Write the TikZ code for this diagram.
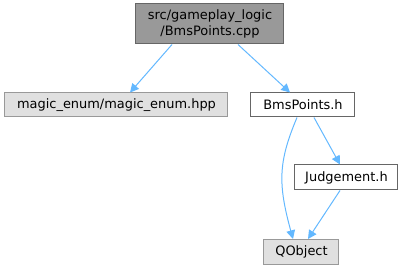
\documentclass[tikz,border=0pt]{standalone}
\usepackage{fontspec}
\setmainfont{DejaVu Sans}
\usetikzlibrary{calc,arrows.meta}
\definecolor{edgeblue}{HTML}{63B8FF}
\definecolor{darkborder}{HTML}{666666}
\definecolor{lightborder}{HTML}{999999}
\definecolor{mainfill}{HTML}{999999}
\definecolor{extfill}{HTML}{E0E0E0}
\begin{document}
\begin{tikzpicture}[x=0.75pt,y=-0.75pt,
  box/.style={draw=darkborder,line width=0.75pt,fill=white,inner sep=0pt,
    align=center,font=\fontsize{9.7}{11.6}\selectfont,text=black},
  mainbox/.style={box,fill=mainfill},
  extbox/.style={box,draw=lightborder,fill=extfill},
  dep/.style={draw=edgeblue,line width=0.75pt,
    -{Triangle[length=6.5pt,width=6.5pt]}}]
\useasboundingbox (0,0) rectangle (405,271);

% files of the include graph
\node[mainbox,minimum width=111pt,minimum height=30pt] (top) at (210,24)
  {src/gameplay\_logic\\/BmsPoints.cpp};
\node[extbox,minimum width=167.25pt,minimum height=18pt] (magic) at (116.5,105)
  {magic\_enum/magic\_enum.hpp};
\node[box,minimum width=78pt,minimum height=18pt] (bms) at (303,105)
  {BmsPoints.h};
\node[box,minimum width=77.25pt,minimum height=18.75pt] (judg) at (346.5,177.5)
  {Judgement.h};
\node[extbox,minimum width=56.25pt,minimum height=18.75pt] (qobj) at (301.5,252)
  {QObject};

% include edges
\draw[dep] ($(top.south)+(-38,0)$) -- ($(magic.north)+(13.5,0)$);
\draw[dep] ($(top.south)+(28,0)$) -- ($(bms.north)+(-13,0)$);
\draw[dep] ($(bms.south)+(11,0)$) -- ($(judg.north)+(-6.5,0)$);
\draw[dep] ($(judg.south)+(-6.5,0)$) -- ($(qobj.north)+(6.5,0)$);
\draw[dep] ($(bms.south)+(-6,0)$) .. controls +(-19,45) and +(-15,-55) .. ($(qobj.north)+(-8.5,0)$);
\end{tikzpicture}
\end{document}
